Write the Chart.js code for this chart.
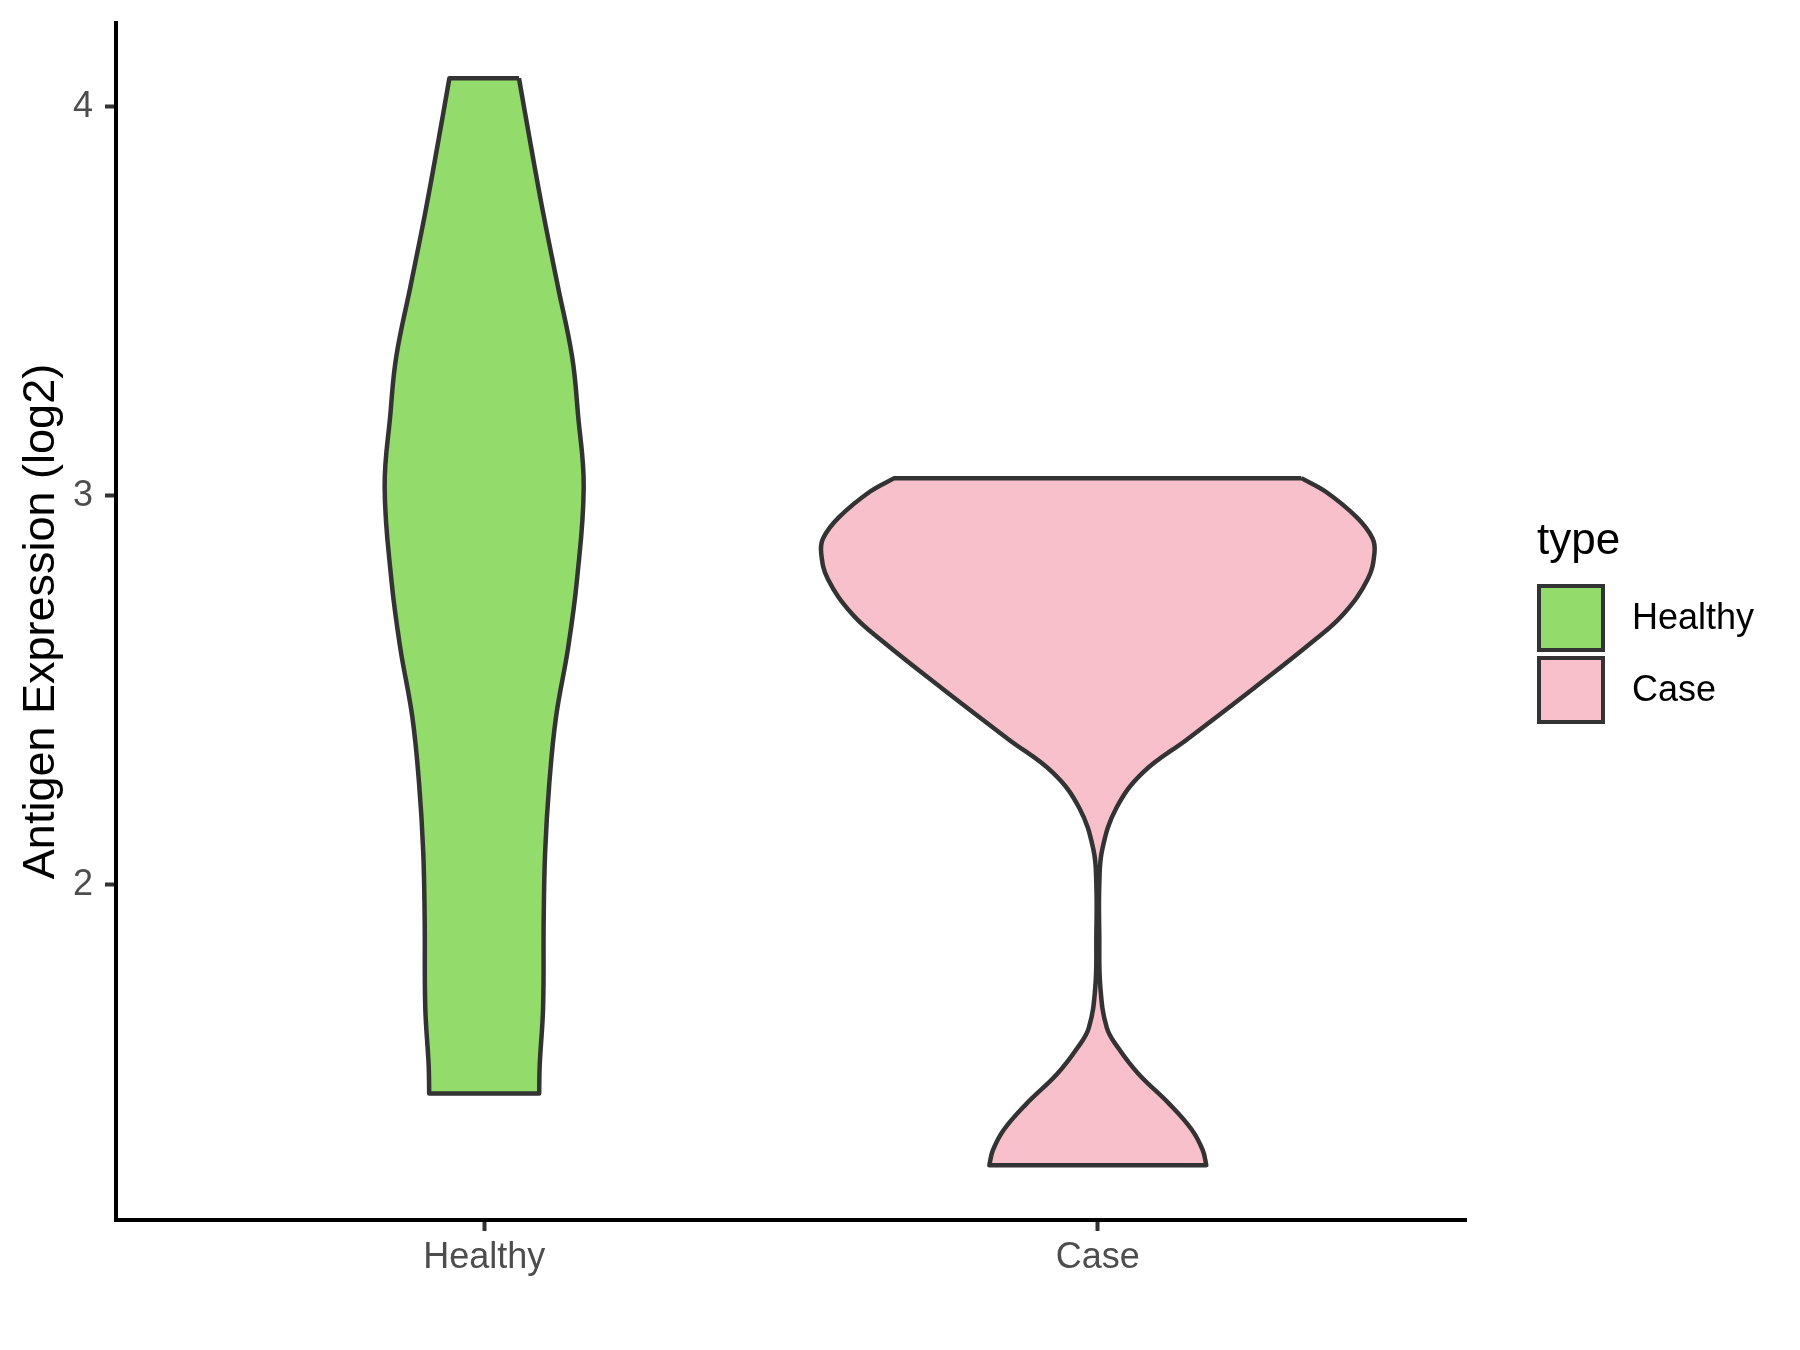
<!DOCTYPE html>
<html>
<head>
<meta charset="utf-8">
<script src="https://cdn.jsdelivr.net/npm/chart.js@4.4.1/dist/chart.umd.min.js"></script>
<style>
  body { margin: 0; background: #fff; }
  #wrap { width: 1800px; height: 1350px; position: relative; }
</style>
</head>
<body>
<div id="wrap"><canvas id="chart"></canvas></div>
<script>
// categories and tick values
const categories = ["Healthy", "Case"];
const yTicks = [2, 3, 4];

// violin outlines: expression values (top to bottom)
// and half widths in category units
const healthyY = [4.073, 3.895, 3.723, 3.539, 3.356, 3.207, 3.023, 2.783, 2.611, 2.43, 2.258, 2.086, 1.914, 1.685, 1.536, 1.463];
const healthyHalf = [0.0567, 0.0766, 0.0966, 0.120, 0.1434, 0.153, 0.1622, 0.1512, 0.137, 0.117, 0.106, 0.0994, 0.097, 0.096, 0.0905, 0.0896];

const caseY = [3.045, 3.010, 2.944, 2.891, 2.852, 2.786, 2.695, 2.623, 2.505, 2.374, 2.288, 2.197, 2.091, 1.999, 1.868, 1.737, 1.632, 1.580, 1.514, 1.436, 1.370, 1.317, 1.279];
const caseHalf = [0.3317, 0.3716, 0.4221, 0.4474, 0.4508, 0.440, 0.400, 0.3488, 0.2542, 0.1459, 0.0733, 0.0302, 0.0073, 0.0024, 0.0024, 0.0041, 0.0147, 0.0334, 0.066, 0.1168, 0.1532, 0.1711, 0.1768];

const colors = ["#93DB6B", "#F7C0CB"];
const outline = "#333333";

// closed outline: right side top->bottom, then left side bottom->top.
// corner points are doubled so the curve keeps sharp corners there
function violinPoints(pos, ys, halfs) {
    const right = ys.map((y, i) => ({ x: pos + halfs[i], y: y }));
    const left = ys.map((y, i) => ({ x: pos - halfs[i], y: y })).reverse();
    const pts = [];
    [right, left].forEach(side => {
        pts.push(side[0]);
        pts.push(...side);
        pts.push(side[side.length - 1]);
    });
    pts.push(right[0]);
    return pts;
}

const violins = [
    violinPoints(1, healthyY, healthyHalf),
    violinPoints(2, caseY, caseHalf)
];

// legend drawn on the canvas, ggplot style
const legendPlugin = {
    id: "typeLegend",
    afterDraw(chart) {
        const ctx = chart.ctx;
        ctx.save();
        ctx.fillStyle = "#000";
        ctx.font = "44px 'Liberation Sans', Arial, sans-serif";
        ctx.textAlign = "left";
        ctx.textBaseline = "alphabetic";
        ctx.fillText("type", 1537, 554);
        categories.forEach((c, i) => {
            const top = 584 + i * 72;
            ctx.fillStyle = colors[i];
            ctx.fillRect(1539, top + 2, 64, 64);
            ctx.strokeStyle = outline;
            ctx.lineWidth = 4;
            ctx.strokeRect(1539, top + 2, 64, 64);
            ctx.fillStyle = "#000";
            ctx.font = "36px 'Liberation Sans', Arial, sans-serif";
            ctx.textBaseline = "middle";
            ctx.fillText(c, 1632, top + 35);
        });
        ctx.restore();
    }
};

const tickFont = { family: "'Liberation Sans', Arial, sans-serif", size: 36 };

function noPadding(s) {
    s.paddingTop = 0;
    s.paddingBottom = 0;
    s.paddingLeft = 0;
    s.paddingRight = 0;
}

new Chart(document.getElementById("chart"), {
    type: "line",
    data: {
        datasets: violins.map((pts, i) => ({
            label: categories[i],
            data: pts,
            backgroundColor: colors[i],
            borderColor: outline,
            borderWidth: 4.5,
            borderJoinStyle: "round",
            pointRadius: 0,
            tension: 0.4,
            fill: "shape"
        }))
    },
    options: {
        responsive: true,
        maintainAspectRatio: false,
        animation: false,
        devicePixelRatio: 1,
        layout: { padding: { top: 23, right: 334, left: 0, bottom: 0 } },
        plugins: {
            legend: { display: false },
            tooltip: { enabled: false }
        },
        scales: {
            x: {
                type: "linear",
                min: 0.4,
                max: 2.6,
                afterBuildTicks: s => { s.ticks = [1, 2].map(v => ({ value: v })); },
                afterFit: s => { s.height = 130; noPadding(s); },
                ticks: {
                    color: "#4D4D4D",
                    font: tickFont,
                    padding: 5,
                    maxRotation: 0,
                    callback: v => categories[v - 1]
                },
                grid: { drawOnChartArea: false, drawTicks: true, tickLength: 11, tickWidth: 4, tickColor: outline },
                border: { display: true, color: "#000", width: 4 }
            },
            y: {
                type: "linear",
                min: 1.138,
                max: 4.215,
                afterBuildTicks: s => { s.ticks = yTicks.map(v => ({ value: v })); },
                afterFit: s => { s.width = 116; noPadding(s); },
                ticks: { color: "#4D4D4D", font: tickFont, padding: 12 },
                grid: { drawOnChartArea: false, drawTicks: true, tickLength: 11, tickWidth: 4, tickColor: outline },
                border: { display: true, color: "#000", width: 4 },
                title: {
                    display: true,
                    text: "Antigen Expression (log2)",
                    color: "#000",
                    font: { family: "'Liberation Sans', Arial, sans-serif", size: 45 },
                    padding: { top: 15, bottom: 0 }
                }
            }
        }
    },
    plugins: [legendPlugin]
});
</script>
</body>
</html>
